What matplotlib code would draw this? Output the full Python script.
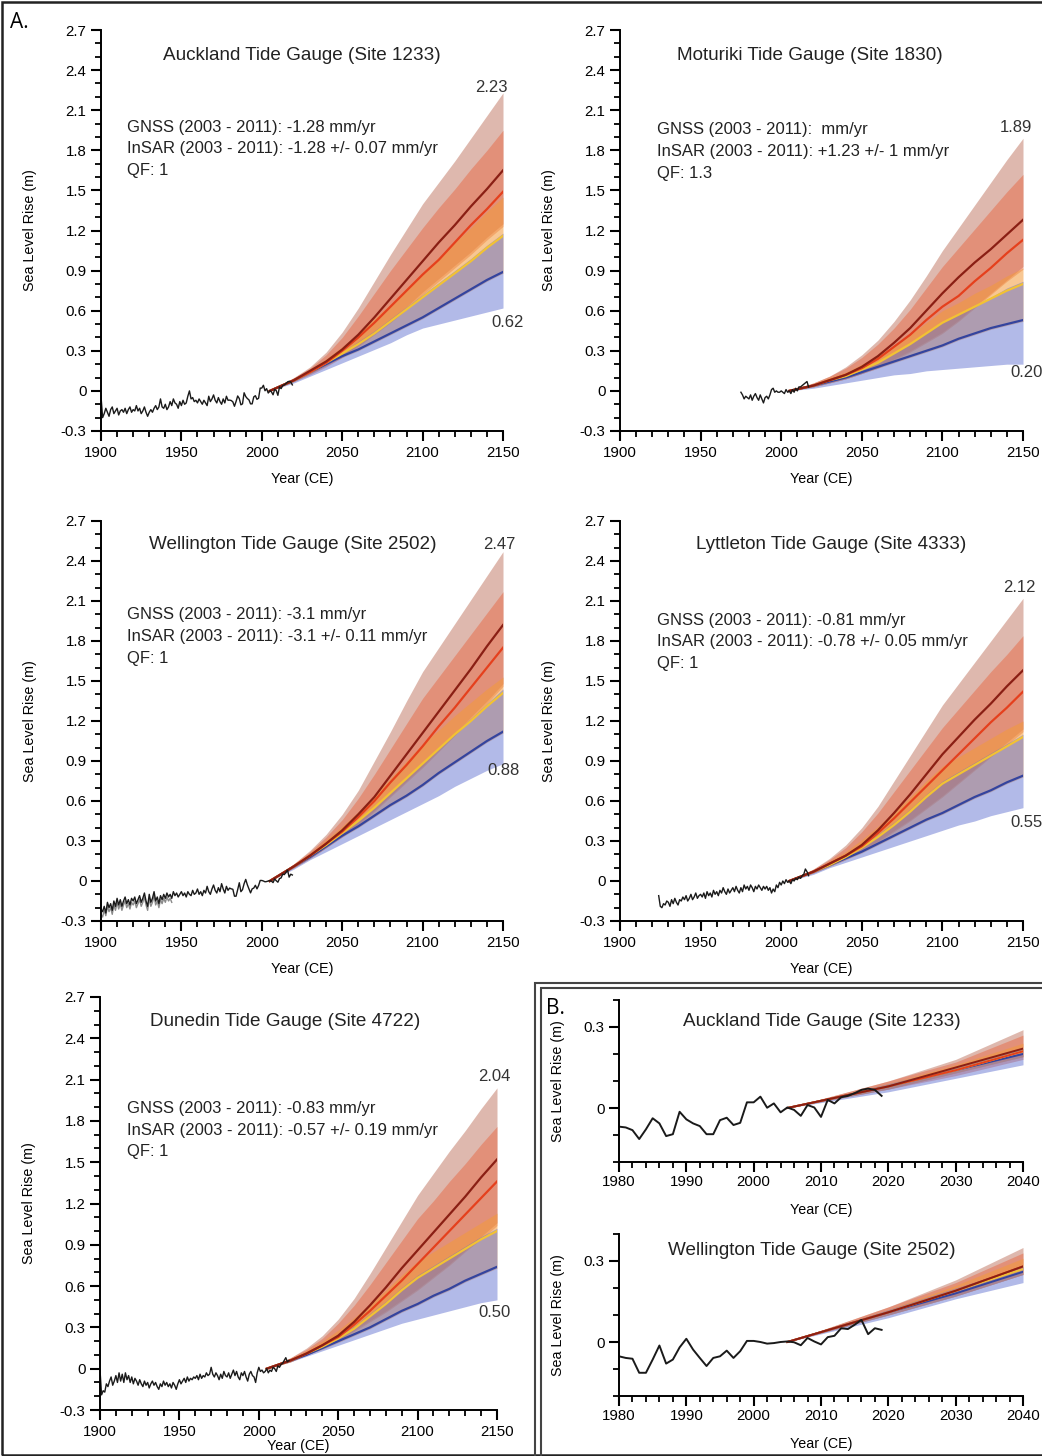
import numpy as np
import matplotlib.pyplot as plt
from matplotlib.ticker import MultipleLocator, FuncFormatter
from matplotlib.patches import Rectangle

plt.rcParams['font.family'] = ['Liberation Sans', 'DejaVu Sans']
plt.rcParams['axes.unicode_minus'] = False

# projection years; scenario rows: dark red, red, yellow, blue
proj_years = [2005, 2020, 2030, 2040, 2050, 2060, 2070, 2080, 2090, 2100, 2110, 2120, 2130, 2140, 2150]

auck_mid = [[0, 0.08, 0.15, 0.22, 0.31, 0.42, 0.55, 0.69, 0.83, 0.97, 1.11, 1.24, 1.38, 1.51, 1.65],
            [0, 0.08, 0.14, 0.21, 0.30, 0.40, 0.51, 0.63, 0.75, 0.87, 0.98, 1.11, 1.24, 1.36, 1.49],
            [0, 0.08, 0.14, 0.21, 0.28, 0.35, 0.43, 0.52, 0.61, 0.70, 0.79, 0.88, 0.97, 1.07, 1.16],
            [0, 0.08, 0.14, 0.20, 0.26, 0.31, 0.37, 0.43, 0.49, 0.55, 0.62, 0.69, 0.76, 0.83, 0.89]]
auck_lo = [[0, 0.07, 0.13, 0.19, 0.26, 0.34, 0.43, 0.53, 0.63, 0.74, 0.84, 0.94, 1.04, 1.15, 1.25],
           [0, 0.07, 0.12, 0.18, 0.25, 0.33, 0.42, 0.51, 0.61, 0.72, 0.82, 0.92, 1.02, 1.13, 1.23],
           [0, 0.07, 0.13, 0.19, 0.25, 0.30, 0.36, 0.42, 0.48, 0.54, 0.61, 0.68, 0.75, 0.82, 0.88],
           [0, 0.06, 0.11, 0.16, 0.21, 0.26, 0.31, 0.36, 0.42, 0.47, 0.50, 0.53, 0.56, 0.59, 0.62]]
auck_hi = [[0, 0.10, 0.18, 0.29, 0.44, 0.62, 0.82, 1.02, 1.21, 1.40, 1.56, 1.72, 1.89, 2.06, 2.23],
           [0, 0.10, 0.17, 0.27, 0.40, 0.56, 0.73, 0.90, 1.06, 1.22, 1.37, 1.51, 1.66, 1.80, 1.95],
           [0, 0.09, 0.16, 0.24, 0.33, 0.43, 0.54, 0.65, 0.77, 0.89, 1.00, 1.11, 1.22, 1.34, 1.45],
           [0, 0.09, 0.15, 0.22, 0.29, 0.37, 0.45, 0.54, 0.63, 0.72, 0.81, 0.90, 0.99, 1.09, 1.18]]

motu_mid = [[0, 0.04, 0.08, 0.12, 0.18, 0.26, 0.36, 0.47, 0.60, 0.73, 0.85, 0.96, 1.06, 1.17, 1.28],
            [0, 0.04, 0.08, 0.12, 0.17, 0.24, 0.33, 0.42, 0.53, 0.63, 0.71, 0.82, 0.92, 1.03, 1.13],
            [0, 0.04, 0.08, 0.11, 0.16, 0.21, 0.28, 0.35, 0.43, 0.51, 0.57, 0.63, 0.69, 0.75, 0.80],
            [0, 0.04, 0.07, 0.10, 0.14, 0.18, 0.22, 0.26, 0.30, 0.34, 0.39, 0.43, 0.47, 0.50, 0.53]]
motu_lo = [[0, 0.03, 0.06, 0.09, 0.13, 0.18, 0.24, 0.30, 0.37, 0.44, 0.53, 0.63, 0.73, 0.83, 0.93],
           [0, 0.03, 0.06, 0.09, 0.13, 0.17, 0.23, 0.29, 0.36, 0.43, 0.52, 0.62, 0.72, 0.82, 0.91],
           [0, 0.03, 0.06, 0.09, 0.13, 0.17, 0.21, 0.25, 0.29, 0.33, 0.38, 0.42, 0.46, 0.49, 0.52],
           [0, 0.02, 0.04, 0.06, 0.08, 0.10, 0.12, 0.13, 0.15, 0.16, 0.17, 0.18, 0.19, 0.20, 0.20]]
motu_hi = [[0, 0.06, 0.11, 0.18, 0.27, 0.38, 0.52, 0.68, 0.86, 1.05, 1.22, 1.39, 1.56, 1.73, 1.89],
           [0, 0.06, 0.11, 0.17, 0.25, 0.35, 0.47, 0.61, 0.77, 0.93, 1.07, 1.21, 1.35, 1.49, 1.62],
           [0, 0.05, 0.10, 0.14, 0.20, 0.26, 0.34, 0.42, 0.51, 0.60, 0.66, 0.73, 0.79, 0.86, 0.92],
           [0, 0.05, 0.09, 0.12, 0.17, 0.22, 0.29, 0.36, 0.44, 0.52, 0.58, 0.64, 0.70, 0.77, 0.82]]

well_mid = [[0, 0.11, 0.19, 0.28, 0.38, 0.50, 0.63, 0.79, 0.95, 1.11, 1.27, 1.43, 1.59, 1.76, 1.92],
            [0, 0.11, 0.19, 0.28, 0.37, 0.48, 0.60, 0.74, 0.87, 1.01, 1.16, 1.30, 1.45, 1.60, 1.75],
            [0, 0.11, 0.19, 0.27, 0.36, 0.45, 0.55, 0.66, 0.77, 0.88, 0.99, 1.10, 1.20, 1.31, 1.41],
            [0, 0.11, 0.18, 0.26, 0.34, 0.41, 0.49, 0.57, 0.64, 0.72, 0.81, 0.89, 0.97, 1.05, 1.12]]
well_lo = [[0, 0.10, 0.17, 0.25, 0.34, 0.43, 0.53, 0.64, 0.75, 0.86, 0.98, 1.10, 1.23, 1.35, 1.48],
           [0, 0.10, 0.17, 0.25, 0.33, 0.42, 0.52, 0.63, 0.74, 0.85, 0.97, 1.09, 1.21, 1.33, 1.46],
           [0, 0.10, 0.17, 0.25, 0.33, 0.40, 0.48, 0.56, 0.63, 0.71, 0.80, 0.88, 0.96, 1.04, 1.11],
           [0, 0.09, 0.16, 0.22, 0.28, 0.34, 0.40, 0.46, 0.52, 0.58, 0.64, 0.71, 0.77, 0.83, 0.88]]
well_hi = [[0, 0.13, 0.23, 0.35, 0.50, 0.68, 0.90, 1.12, 1.35, 1.57, 1.75, 1.93, 2.11, 2.29, 2.47],
           [0, 0.13, 0.22, 0.33, 0.46, 0.62, 0.80, 0.99, 1.18, 1.37, 1.53, 1.69, 1.85, 2.01, 2.17],
           [0, 0.12, 0.21, 0.31, 0.41, 0.52, 0.64, 0.77, 0.90, 1.03, 1.13, 1.24, 1.34, 1.44, 1.53],
           [0, 0.12, 0.20, 0.28, 0.37, 0.46, 0.56, 0.67, 0.78, 0.89, 1.00, 1.11, 1.22, 1.33, 1.44]]

lytt_mid = [[0, 0.07, 0.13, 0.19, 0.27, 0.38, 0.51, 0.65, 0.80, 0.95, 1.08, 1.21, 1.33, 1.46, 1.58],
            [0, 0.07, 0.13, 0.19, 0.26, 0.36, 0.47, 0.59, 0.71, 0.83, 0.95, 1.07, 1.19, 1.30, 1.42],
            [0, 0.07, 0.12, 0.18, 0.25, 0.33, 0.42, 0.52, 0.63, 0.73, 0.80, 0.87, 0.94, 1.01, 1.08],
            [0, 0.07, 0.12, 0.17, 0.22, 0.28, 0.34, 0.40, 0.46, 0.51, 0.57, 0.63, 0.68, 0.74, 0.79]]
lytt_lo = [[0, 0.06, 0.11, 0.17, 0.23, 0.30, 0.38, 0.46, 0.55, 0.64, 0.74, 0.84, 0.94, 1.04, 1.14],
           [0, 0.06, 0.11, 0.16, 0.22, 0.29, 0.37, 0.45, 0.54, 0.63, 0.73, 0.83, 0.93, 1.02, 1.12],
           [0, 0.06, 0.11, 0.16, 0.21, 0.27, 0.33, 0.39, 0.45, 0.50, 0.56, 0.62, 0.67, 0.73, 0.78],
           [0, 0.05, 0.10, 0.14, 0.18, 0.22, 0.26, 0.30, 0.34, 0.38, 0.42, 0.45, 0.49, 0.52, 0.55]]
lytt_hi = [[0, 0.09, 0.17, 0.27, 0.40, 0.56, 0.75, 0.94, 1.13, 1.32, 1.48, 1.64, 1.80, 1.96, 2.12],
           [0, 0.09, 0.16, 0.25, 0.37, 0.51, 0.67, 0.83, 0.99, 1.15, 1.29, 1.43, 1.57, 1.70, 1.84],
           [0, 0.08, 0.15, 0.22, 0.31, 0.41, 0.52, 0.63, 0.75, 0.86, 0.93, 1.00, 1.07, 1.14, 1.20],
           [0, 0.08, 0.13, 0.19, 0.27, 0.35, 0.44, 0.54, 0.65, 0.75, 0.82, 0.89, 0.96, 1.03, 1.10]]

dune_mid = [[0, 0.06, 0.11, 0.17, 0.24, 0.34, 0.46, 0.59, 0.73, 0.86, 0.99, 1.12, 1.25, 1.39, 1.52],
            [0, 0.06, 0.11, 0.17, 0.23, 0.32, 0.42, 0.53, 0.64, 0.76, 0.88, 1.00, 1.12, 1.24, 1.36],
            [0, 0.06, 0.11, 0.16, 0.22, 0.29, 0.38, 0.47, 0.57, 0.66, 0.73, 0.80, 0.87, 0.94, 1.00],
            [0, 0.06, 0.10, 0.15, 0.20, 0.25, 0.30, 0.36, 0.42, 0.47, 0.53, 0.58, 0.64, 0.69, 0.74]]
dune_lo = [[0, 0.05, 0.10, 0.15, 0.21, 0.28, 0.35, 0.42, 0.50, 0.58, 0.67, 0.76, 0.86, 0.96, 1.06],
           [0, 0.05, 0.10, 0.15, 0.20, 0.27, 0.34, 0.41, 0.49, 0.57, 0.66, 0.75, 0.85, 0.94, 1.04],
           [0, 0.05, 0.10, 0.14, 0.19, 0.24, 0.29, 0.35, 0.41, 0.46, 0.52, 0.57, 0.63, 0.68, 0.73],
           [0, 0.05, 0.09, 0.13, 0.17, 0.21, 0.25, 0.29, 0.33, 0.36, 0.39, 0.42, 0.45, 0.48, 0.50]]
dune_hi = [[0, 0.08, 0.15, 0.24, 0.36, 0.51, 0.69, 0.88, 1.07, 1.26, 1.42, 1.58, 1.73, 1.89, 2.04],
           [0, 0.08, 0.14, 0.22, 0.33, 0.46, 0.61, 0.77, 0.93, 1.09, 1.22, 1.36, 1.49, 1.63, 1.76],
           [0, 0.07, 0.13, 0.20, 0.28, 0.37, 0.47, 0.57, 0.68, 0.78, 0.85, 0.92, 0.99, 1.06, 1.13],
           [0, 0.07, 0.12, 0.18, 0.24, 0.31, 0.40, 0.49, 0.59, 0.68, 0.75, 0.82, 0.89, 0.96, 1.02]]

# annual tide gauge records (m)
auck_start = 1900
auck_obs = [-0.04, -0.20, -0.17, -0.13, -0.16, -0.19, -0.14, -0.12, -0.17, -0.15,
            -0.13, -0.18, -0.15, -0.14, -0.16, -0.13, -0.17, -0.14, -0.12, -0.16,
            -0.14, -0.15, -0.11, -0.15, -0.13, -0.17, -0.15, -0.12, -0.16, -0.19,
            -0.16, -0.14, -0.16, -0.13, -0.11, -0.14, -0.12, -0.06, -0.12, -0.13,
            -0.10, -0.14, -0.12, -0.08, -0.11, -0.06, -0.09, -0.10, -0.13, -0.08,
            -0.11, -0.07, -0.10, -0.09, -0.04, 0.00, -0.06, -0.05, -0.08, -0.07,
            -0.09, -0.06, -0.08, -0.10, -0.07, -0.09, -0.11, -0.04, -0.08, -0.06,
            -0.03, -0.07, -0.09, -0.05, -0.08, -0.10, -0.06, -0.09, -0.04, -0.07,
            -0.069, -0.072, -0.082, -0.115, -0.079, -0.038, -0.057, -0.104, -0.097, -0.014,
            -0.042, -0.057, -0.067, -0.097, -0.097, -0.045, -0.036, -0.063, -0.055, 0.021,
            0.021, 0.042, 0.001, 0.017, -0.016, 0.002, -0.007, -0.029, 0.011, 0.002,
            -0.033, 0.030, 0.017, 0.040, 0.045, 0.055, 0.067, 0.072, 0.067, 0.045]

motu_start = 1975
motu_obs = [-0.01, -0.03, -0.06, -0.04, -0.05, -0.06, -0.03, -0.07, -0.04, -0.02,
            -0.05, -0.07, -0.03, -0.06, -0.09, -0.05, -0.04, -0.06, -0.03, 0.01,
            0.02, -0.01, 0.00, -0.01, -0.01, 0.00, -0.01, -0.02, 0.01, -0.01,
            0.00, -0.02, 0.01, -0.01, 0.02, 0.00, 0.03, 0.03, 0.04, 0.05,
            0.06, 0.07, 0.03]

well_start = 1900
well_obs = [-0.21, -0.23, -0.19, -0.24, -0.16, -0.20, -0.17, -0.22, -0.15, -0.19,
            -0.13, -0.18, -0.14, -0.19, -0.15, -0.12, -0.17, -0.14, -0.18, -0.13,
            -0.15, -0.12, -0.17, -0.14, -0.11, -0.16, -0.13, -0.09, -0.15, -0.19,
            -0.10, -0.16, -0.13, -0.08, -0.15, -0.12, -0.17, -0.11, -0.14, -0.10,
            -0.13, -0.09, -0.12, -0.10, -0.13, -0.08, -0.11, -0.09, -0.12, -0.10,
            -0.08, -0.11, -0.09, -0.12, -0.08, -0.10, -0.11, -0.07, -0.10, -0.09,
            -0.06, -0.10, -0.08, -0.11, -0.07, -0.09, -0.04, -0.08, -0.10, -0.06,
            -0.03, -0.07, -0.09, -0.05, -0.08, -0.02, -0.06, -0.09, -0.04, -0.07,
            -0.053, -0.059, -0.062, -0.114, -0.114, -0.065, -0.013, -0.080, -0.065, -0.020,
            0.012, -0.028, -0.059, -0.089, -0.059, -0.053, -0.032, -0.059, -0.034, 0.004,
            0.004, 0.000, -0.006, -0.004, 0.000, 0.002, -0.001, -0.012, 0.015, 0.002,
            -0.009, 0.018, 0.023, 0.051, 0.048, 0.064, 0.082, 0.029, 0.051, 0.045]
well_obs2 = [-0.25, -0.27, -0.22, -0.26, -0.19, -0.23, -0.20, -0.25, -0.18, -0.22,
             -0.16, -0.21, -0.17, -0.22, -0.18, -0.15, -0.20, -0.17, -0.21, -0.16,
             -0.18, -0.15, -0.20, -0.17, -0.14, -0.19, -0.16, -0.12, -0.18, -0.22,
             -0.13, -0.19, -0.16, -0.11, -0.18, -0.15, -0.20, -0.14, -0.17, -0.13,
             -0.16, -0.12, -0.15, -0.13, -0.16]

lytt_start = 1924
lytt_obs = [-0.11, -0.19, -0.20, -0.17, -0.18, -0.15,
            -0.16, -0.19, -0.14, -0.17, -0.13, -0.16, -0.18, -0.14, -0.15, -0.12,
            -0.14, -0.11, -0.15, -0.13, -0.10, -0.14, -0.12, -0.09, -0.13, -0.11,
            -0.10, -0.12, -0.09, -0.13, -0.08, -0.11, -0.09, -0.12, -0.07, -0.10,
            -0.08, -0.11, -0.07, -0.09, -0.05, -0.08, -0.10, -0.06, -0.09, -0.07,
            -0.05, -0.08, -0.04, -0.07, -0.09, -0.05, -0.08, -0.03, -0.06, -0.04,
            -0.07, -0.03, -0.05, -0.08, -0.04, -0.06, -0.03, -0.05, -0.07, -0.04,
            -0.06, -0.04, -0.07, -0.05, -0.09, -0.06, -0.08, -0.03, -0.05, -0.01,
            -0.03, 0.00, -0.02, 0.01, -0.01, 0.00, -0.02, 0.01, 0.00, 0.02,
            0.01, 0.03, 0.02, 0.04, 0.05, 0.09, 0.07, 0.04]

dune_start = 1900
dune_obs = [-0.01, -0.19, -0.16, -0.17, -0.11, -0.13, -0.09, -0.06, -0.12, -0.09,
            -0.05, -0.10, -0.03, -0.09, -0.04, -0.10, -0.03, -0.08, -0.05, -0.10,
            -0.06, -0.11, -0.07, -0.09, -0.12, -0.08, -0.11, -0.13, -0.09, -0.12,
            -0.10, -0.14, -0.11, -0.09, -0.12, -0.10, -0.13, -0.15, -0.11, -0.13,
            -0.09, -0.12, -0.10, -0.13, -0.11, -0.14, -0.10, -0.12, -0.15, -0.11,
            -0.08, -0.11, -0.09, -0.07, -0.10, -0.06, -0.09, -0.07, -0.08, -0.06,
            -0.07, -0.05, -0.08, -0.04, -0.07, -0.05, -0.06, -0.03, -0.05, -0.04,
            0.01, -0.04, -0.06, -0.03, -0.05, -0.08, -0.04, -0.07, -0.02, -0.05,
            -0.06, -0.03, -0.07, -0.04, -0.01, -0.05, -0.02, -0.06, -0.08, -0.03,
            -0.05, -0.02, -0.06, -0.09, -0.04, -0.02, -0.05, -0.06, -0.10, -0.03,
            0.01, -0.02, -0.01, -0.03, -0.02, 0.00, -0.03, -0.01, -0.02, 0.01,
            0.00, -0.02, 0.02, 0.01, 0.03, 0.04, 0.06, 0.08, 0.05, 0.06]

titles = ['Auckland Tide Gauge (Site 1233)', 'Moturiki Tide Gauge (Site 1830)',
          'Wellington Tide Gauge (Site 2502)', 'Lyttleton Tide Gauge (Site 4333)',
          'Dunedin Tide Gauge (Site 4722)']
notes = [['GNSS (2003 - 2011): -1.28 mm/yr', 'InSAR (2003 - 2011): -1.28 +/- 0.07 mm/yr', 'QF: 1'],
         ['GNSS (2003 - 2011):  mm/yr', 'InSAR (2003 - 2011): +1.23 +/- 1 mm/yr', 'QF: 1.3'],
         ['GNSS (2003 - 2011): -3.1 mm/yr', 'InSAR (2003 - 2011): -3.1 +/- 0.11 mm/yr', 'QF: 1'],
         ['GNSS (2003 - 2011): -0.81 mm/yr', 'InSAR (2003 - 2011): -0.78 +/- 0.05 mm/yr', 'QF: 1'],
         ['GNSS (2003 - 2011): -0.83 mm/yr', 'InSAR (2003 - 2011): -0.57 +/- 0.19 mm/yr', 'QF: 1']]

line_colors = ['#8a1f14', '#e5401d', '#f2c233', '#34449e']
band_colors = ['#c98a78', '#e8603a', '#f39a3a', '#5f6fd0']
band_alpha = [0.6, 0.45, 0.55, 0.48]


def fmt(v, pos):
    r = round(v, 1)
    return '0' if r == 0 else f'{r:g}'


def style_axes(ax, xmaj, xmin, ymaj, ymin):
    for s in ['top', 'right']:
        ax.spines[s].set_visible(False)
    for s in ['left', 'bottom']:
        ax.spines[s].set_linewidth(1.4)
    ax.xaxis.set_major_locator(MultipleLocator(xmaj))
    ax.xaxis.set_minor_locator(MultipleLocator(xmin))
    ax.yaxis.set_major_locator(MultipleLocator(ymaj))
    ax.yaxis.set_minor_locator(MultipleLocator(ymin))
    ax.yaxis.set_major_formatter(FuncFormatter(fmt))
    ax.tick_params(which='major', direction='out', length=7, width=1.5, labelsize=10.8, pad=3.5)
    ax.tick_params(which='minor', direction='out', length=4, width=1.3)


def draw_proj(ax, mid, lo, hi, upto=2150, lw=1.6):
    yrs = np.array(proj_years)
    keep = yrs <= upto
    for i in range(4):
        ax.fill_between(yrs[keep], np.array(lo[i])[keep], np.array(hi[i])[keep],
                        color=band_colors[i], alpha=band_alpha[i], lw=0)
    for i in [3, 2, 1, 0]:
        ax.plot(yrs[keep], np.array(mid[i])[keep], color=line_colors[i], lw=lw)


fig = plt.figure(figsize=(10.42, 14.56), dpi=100)
W, H = 1042, 1456


def add_ax(x0, x1, ytop, ybot):
    return fig.add_axes([x0 / W, 1 - ybot / H, (x1 - x0) / W, (ybot - ytop) / H])


panels = [
    dict(box=(101, 503, 30, 431), mid=auck_mid, lo=auck_lo, hi=auck_hi, obs=auck_obs, start=auck_start,
         title_pos=(0.5, 0.937), note_pos=(0.065, 0.758), top_lab=(2143, 2.27), bot_lab=(2153, 0.51)),
    dict(box=(620, 1023, 30, 431), mid=motu_mid, lo=motu_lo, hi=motu_hi, obs=motu_obs, start=motu_start,
         title_pos=(0.471, 0.937), note_pos=(0.092, 0.751), top_lab=(2145.5, 1.97), bot_lab=(2152.5, 0.14)),
    dict(box=(101, 503, 521, 921), mid=well_mid, lo=well_lo, hi=well_hi, obs=well_obs, start=well_start,
         title_pos=(0.478, 0.94), note_pos=(0.065, 0.765), top_lab=(2147.5, 2.52), bot_lab=(2150.5, 0.83)),
    dict(box=(620, 1023, 521, 921), mid=lytt_mid, lo=lytt_lo, hi=lytt_hi, obs=lytt_obs, start=lytt_start,
         title_pos=(0.523, 0.94), note_pos=(0.092, 0.7525), top_lab=(2147.5, 2.20), bot_lab=(2152, 0.44)),
    dict(box=(100, 497, 997, 1410), mid=dune_mid, lo=dune_lo, hi=dune_hi, obs=dune_obs, start=dune_start,
         title_pos=(0.466, 0.94), note_pos=(0.068, 0.731), top_lab=(2148.5, 2.12), bot_lab=(2148.5, 0.41)),
]

for k, p in enumerate(panels):
    ax = add_ax(*p['box'])
    style_axes(ax, 50, 10, 0.3, 0.1)
    ax.set_xlim(1900, 2150)
    ax.set_ylim(-0.3, 2.7)
    draw_proj(ax, p['mid'], p['lo'], p['hi'])
    yrs = np.arange(p['start'], p['start'] + len(p['obs']))
    if k == 2:
        ax.plot(np.arange(well_start, well_start + len(well_obs2)), well_obs2, color='#8a8a8a', lw=1.0)
    ax.plot(yrs, p['obs'], color='#1a1a1a', lw=1.0)
    ax.text(*p['title_pos'], titles[k], transform=ax.transAxes, ha='center', va='center', fontsize=13.6,
            color='#222222')
    for j, line in enumerate(notes[k]):
        ax.annotate(line, xy=p['note_pos'], xycoords='axes fraction', xytext=(0, -15.8 * j),
                    textcoords='offset points', ha='left', va='center', fontsize=12, color='#222222')
    ax.text(*p['top_lab'], f"{p['hi'][0][-1]:.2f}", ha='center', va='center', fontsize=12, color='#333333')
    ax.text(*p['bot_lab'], f"{p['lo'][3][-1]:.2f}", ha='center', va='center', fontsize=12, color='#333333')
    ax.set_ylabel('Sea Level Rise (m)', fontsize=10.3)
    ax.set_xlabel('Year (CE)', fontsize=10.3)
    ax.yaxis.set_label_coords(-0.16, 0.5)
    ax.xaxis.set_label_coords(0.5, -0.102 if k < 4 else -0.07)

# panel B: zoom on 1980-2040
b_panels = [
    dict(box=(619, 1023, 1000, 1162), mid=auck_mid, lo=auck_lo, hi=auck_hi, obs=auck_obs, start=auck_start,
         title=titles[0], title_pos=(0.502, 0.866)),
    dict(box=(619, 1023, 1234, 1396), mid=well_mid, lo=well_lo, hi=well_hi, obs=well_obs, start=well_start,
         title=titles[2], title_pos=(0.478, 0.90)),
]
for p in b_panels:
    ax = add_ax(*p['box'])
    style_axes(ax, 10, 2, 0.3, 0.1)
    ax.tick_params(axis='x', which='major', pad=2.5)
    ax.set_xlim(1980, 2040)
    ax.set_ylim(-0.2, 0.4)
    draw_proj(ax, p['mid'], p['lo'], p['hi'], upto=2040, lw=1.4)
    yrs = np.arange(p['start'], p['start'] + len(p['obs']))
    ax.plot(yrs, p['obs'], color='#1a1a1a', lw=1.4)
    ax.text(*p['title_pos'], p['title'], transform=ax.transAxes, ha='center', va='center', fontsize=13.6,
            color='#222222')
    ax.set_ylabel('Sea Level Rise (m)', fontsize=10.3)
    ax.set_xlabel('Year (CE)', fontsize=10.3)
    ax.yaxis.set_label_coords(-0.134, 0.5)
    ax.xaxis.set_label_coords(0.5, -0.255)

# frames and panel letters
fig.patches.append(Rectangle((0.0015, 0.001), 1.2, 0.9975, transform=fig.transFigure,
                             fill=False, lw=1.8, ec='#222222'))
fig.patches.append(Rectangle((535 / W, -0.01), 0.6, (H - 983) / H + 0.01, transform=fig.transFigure,
                             fill=False, lw=1.5, ec='#444444'))
fig.patches.append(Rectangle((541 / W, -0.01), 0.6, (H - 988) / H + 0.01, transform=fig.transFigure,
                             fill=False, lw=1.5, ec='#444444'))
fig.text(10 / W, 1 - 22 / H, 'A.', fontsize=15, family=['Open Sans', 'DejaVu Sans'], va='center', ha='left')
fig.text(546 / W, 1 - 1008 / H, 'B.', fontsize=15, family=['Open Sans', 'DejaVu Sans'], va='center', ha='left')

fig.savefig('out.png', dpi=100)
